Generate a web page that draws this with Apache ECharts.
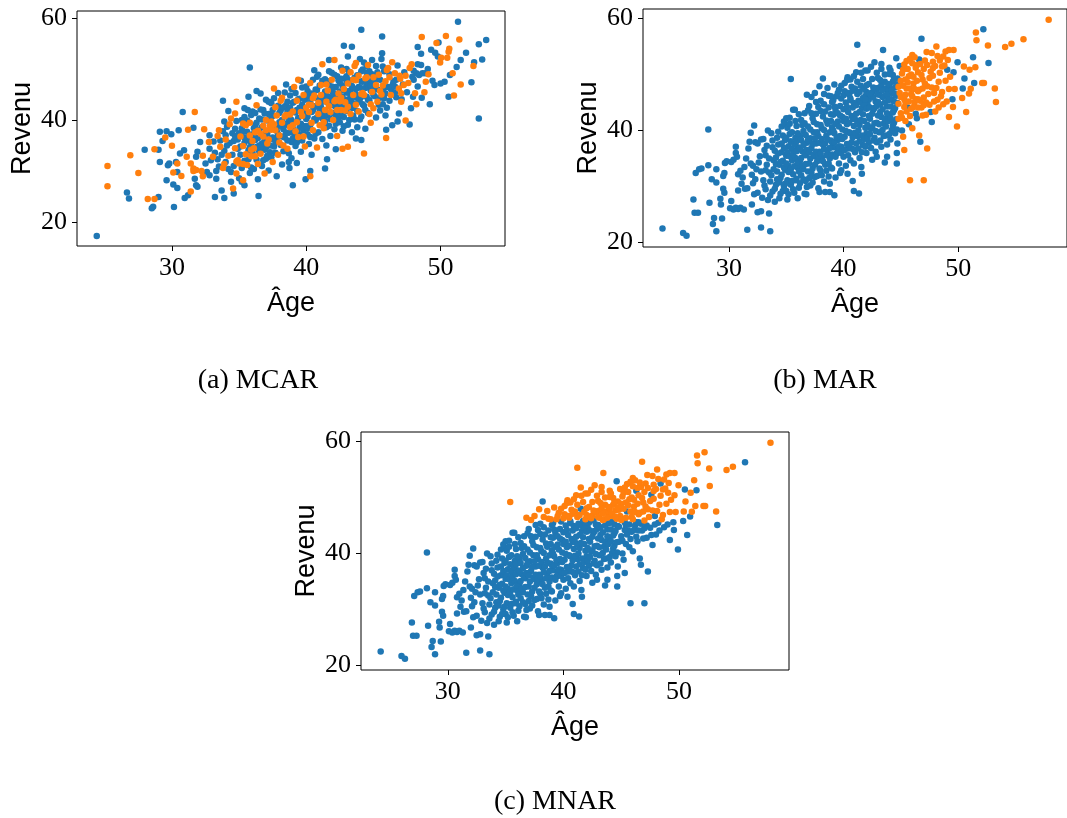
<!DOCTYPE html>
<html>
<head>
<meta charset="utf-8">
<script src="https://cdn.jsdelivr.net/npm/echarts@6.0.0/dist/echarts.min.js"></script>
<style>
  html, body { margin: 0; padding: 0; background: #fff; }
  #chart { width: 1067px; height: 818px; }
</style>
</head>
<body>
<div id="chart"></div>
<script>
// MCAR sample: [age, revenue, missing]
const mcarPoints = [
  [24.4,17.25,0],[25.2,31.0,1],[25.2,27.0,1],[26.65,25.8,0],[26.8,24.6,0],[26.9,33.1,1],[27.5,29.6,1],[27.97,34.2,0],
  [28.2,24.5,1],[28.7,24.5,1],[28.6,23.0,0],[28.5,22.7,0],[28.7,34.3,1],[29.0,24.9,0],[29.0,34.2,0],[29.1,31.8,0],
  [29.1,37.7,0],[29.6,37.8,0],[29.95,37.2,0],[30.5,38.0,0],[29.3,35.9,0],[29.5,36.6,1],[29.6,28.2,0],[29.7,31.15,0],
  [29.8,31.5,0],[30.0,34.95,1],[30.1,29.7,1],[30.1,27.35,0],[30.4,26.7,0],[30.15,22.95,0],[30.3,31.8,0],[30.4,29.8,0],
  [30.4,31.5,1],[30.6,33.45,0],[30.9,34.1,0],[30.7,29.05,1],[30.8,41.6,0],[30.95,24.7,0],[31.2,25.25,0],[31.1,32.8,1],
  [31.2,38.1,1],[31.4,26.0,1],[31.4,31.5,1],[31.6,30.5,1],[31.7,41.6,1],[31.6,38.5,0],[31.7,28.5,0],[31.8,27.2,0],
  [31.9,26.9,0],[31.8,32.8,0],[31.9,33.8,0],[31.6,30.0,1],[31.8,30.2,1],[32.2,30.0,1],[32.3,29.0,1],[32.1,35.7,0],
  [32.3,33.0,1],[32.75,35.7,1],[32.4,38.2,1],[32.8,37.05,0],[32.8,34.4,0],[32.6,29.8,0],[32.8,29.2,0],[33.05,32.8,1],
  [33.2,24.9,0],[33.9,24.7,0],[33.3,30.0,0],[33.3,28.5,0],[33.6,34.75,1],[33.7,26.2,0],[33.8,43.8,0],[33.9,39.7,0],
  [34.0,37.05,0],[34.0,36.2,1],[34.55,26.6,1],[34.6,25.6,0],[34.2,41.8,0],[34.4,40.3,1],[34.7,41.3,1],[34.8,43.6,1],
  [34.8,29.5,1],[34.9,32.1,1],[35.0,28.6,0],[35.2,27.9,0],[35.4,27.2,0],[35.3,28.2,1],[35.3,39.35,1],[35.5,39.0,1],
  [35.4,42.3,0],[35.65,42.0,0],[35.8,50.3,0],
  [33.4,32.3,0],[33.6,36.0,0],[33.8,30.6,1],[33.9,34.0,0],[34.0,31.8,0],[34.1,38.7,0],[34.2,33.0,1],[34.3,35.5,0],
  [34.4,29.8,0],[34.5,37.4,0],[34.6,31.0,0],[34.7,34.5,1],[34.8,39.8,0],[34.9,36.2,0],[35.0,31.5,1],[34.4,27.9,0],
  [33.5,38.0,1],[32.9,32.1,0],[32.5,31.5,0],[33.1,35.8,0],
  [35.1,33.2,0],[35.1,36.8,1],[35.2,30.6,0],[35.2,38.4,0],[35.3,34.9,1],[35.4,32.0,0],[35.4,40.6,0],[35.5,36.0,0],
  [35.6,31.2,1],[35.6,37.7,0],[35.7,34.1,0],[35.7,44.6,0],[35.8,29.6,0],[35.8,39.5,1],[35.9,35.5,0],[35.9,32.9,1],
  [36.0,41.7,0],[36.0,37.2,0],
  [36.1,30.4,0],[36.1,34.5,1],[36.2,39.0,0],[36.2,36.1,0],[36.3,32.2,0],[36.3,42.9,1],[36.4,37.9,1],[36.4,28.4,0],
  [36.5,35.0,0],[36.5,40.3,0],[36.6,33.4,1],[36.6,45.2,0],[36.7,31.0,0],[36.7,38.6,0],[36.8,36.8,1],[36.8,42.0,0],
  [36.9,29.5,1],[36.9,34.2,0],[37.0,40.0,1],[37.0,32.4,0],[37.0,44.0,0],
  [37.1,37.3,0],[37.1,35.4,1],[37.2,41.2,0],[37.2,30.1,0],[37.3,38.9,1],[37.3,33.7,0],[37.4,43.3,0],[37.4,36.3,0],
  [37.5,31.8,1],[37.5,40.8,0],[37.6,34.8,0],[37.7,38.0,1],[37.7,42.5,1],[37.8,36.4,0],[37.8,29.0,0],[37.9,45.3,0],
  [37.9,33.2,1],[38.0,39.6,0],[38.0,37.0,1],
  [38.1,35.1,0],[38.1,41.9,0],[38.2,31.3,0],[38.2,44.4,1],[38.3,38.2,0],[38.3,33.9,0],[38.4,40.7,1],[38.4,36.6,0],
  [38.5,42.9,0],[38.5,47.0,0],[38.6,34.4,1],[38.6,39.4,0],[38.7,37.5,0],[38.8,44.8,0],[38.8,41.1,1],[38.9,35.7,0],
  [38.9,32.5,0],[39.0,39.0,1],[39.0,43.4,0],
  [39.1,37.3,0],[39.1,46.5,1],[39.2,34.9,0],[39.2,41.5,0],[39.3,39.6,1],[39.3,31.6,0],[39.4,44.1,0],[39.4,36.7,1],
  [39.5,42.4,0],[39.5,38.5,0],[39.6,33.8,0],[39.6,47.7,0],[39.7,40.8,1],[39.7,36.0,0],[39.8,44.9,1],[39.8,38.0,0],
  [39.9,42.0,0],[39.9,34.8,1],[40.0,40.2,0],
  [40.1,37.2,0],[40.1,45.7,0],[40.2,43.0,1],[40.2,35.3,0],[40.3,39.1,0],[40.3,47.3,1],[40.4,41.6,0],[40.4,33.2,0],
  [40.5,44.3,1],[40.5,38.0,1],[40.6,36.4,0],[40.6,42.7,0],[40.7,46.0,0],[40.7,39.9,0],[40.8,34.6,1],[40.8,48.5,0],
  [40.9,41.2,1],[40.9,37.6,0],[41.0,44.0,0],[41.0,39.0,1],
  [41.1,42.5,0],[41.1,46.9,1],[41.2,36.3,0],[41.2,40.3,0],[41.3,44.9,0],[41.3,38.4,1],[41.4,48.0,0],[41.4,42.0,1],
  [41.5,35.0,0],[41.5,40.9,0],[41.6,45.8,1],[41.6,43.4,0],[41.7,38.9,0],[41.7,47.6,0],[41.8,41.6,1],[41.8,36.9,0],
  [41.9,44.4,0],[41.9,49.3,0],[42.0,40.0,1],[42.0,42.9,0],
  [42.1,46.4,0],[42.1,38.2,0],[42.2,44.0,1],[42.2,41.0,0],[42.3,48.6,0],[42.3,36.9,1],[42.4,43.1,0],[42.4,45.2,1],
  [42.5,39.6,0],[42.5,47.3,0],[42.6,42.0,1],[42.6,50.3,0],[42.7,44.6,0],[42.7,37.9,0],[42.8,46.1,1],[42.8,40.6,0],
  [42.9,48.2,0],[42.9,43.5,1],[43.0,41.8,0],[43.0,45.4,0],
  [43.1,39.1,0],[43.1,47.2,1],[43.2,43.9,0],[43.2,49.5,0],[43.3,41.2,1],[43.3,45.8,0],[43.4,37.6,0],[43.4,44.3,0],
  [43.5,47.9,1],[43.5,42.4,0],[43.6,40.1,0],[43.6,50.6,1],[43.7,45.0,0],[43.7,43.0,1],[43.8,48.8,0],[43.8,38.6,0],
  [43.9,46.5,0],[43.9,41.7,1],[44.0,44.2,0],[44.0,52.0,0],
  [44.1,47.6,0],[44.1,40.7,0],[44.2,45.3,1],[44.2,49.9,0],[44.3,42.8,0],[44.4,48.2,1],[44.4,38.3,0],[44.5,44.6,0],
  [44.5,46.7,0],[44.6,41.4,0],[44.6,50.8,1],[44.7,43.9,0],[44.7,47.3,0],[44.8,39.5,1],[44.8,45.8,0],[44.9,49.0,0],
  [45.0,42.3,1],[45.0,44.9,0],
  [45.1,47.9,0],[45.2,40.5,0],[45.2,50.6,0],[45.3,43.6,1],[45.3,46.0,0],[45.4,48.9,1],[45.5,41.9,0],[45.5,44.4,0],
  [45.6,52.0,0],[45.7,46.8,1],[45.7,43.1,0],[45.8,49.6,0],[45.9,40.9,0],[45.9,45.2,0],
  [46.0,49.85,1],[46.1,50.2,1],[46.2,43.8,0],[46.3,46.1,0],[46.4,51.35,1],[46.4,39.0,0],[46.45,47.0,0],[46.6,49.2,1],
  [46.7,47.9,0],[46.7,44.5,0],[46.8,39.7,0],[46.9,41.3,0],[46.95,48.7,1],
  [36.45,25.1,0],[36.3,45.7,0],[37.6,46.2,1],[39.0,27.2,0],[39.95,28.4,0],[40.3,30.0,0],[40.3,29.0,1],[38.75,30.6,0],
  [38.7,31.8,0],[40.6,49.8,0],[41.2,50.95,1],[41.7,51.8,0],[42.1,51.8,1],[41.55,32.3,0],[41.4,30.5,0],[42.2,34.3,0],
  [42.8,54.6,0],[43.4,54.4,0],[43.1,52.45,0],[43.0,50.0,0],[44.1,57.7,0],[44.3,33.45,1],[43.7,36.4,0],[44.1,36.1,0],
  [45.65,56.4,0],[45.65,53.1,0],[45.95,38.1,0],[45.95,36.5,1],[43.1,34.75,1],[42.7,34.4,1],
  [51.3,59.3,0],[48.6,56.3,1],[50.4,56.5,1],[51.4,55.8,1],[52.85,54.9,0],[53.4,55.7,0],[49.85,55.2,0],[49.7,55.1,1],
  [48.3,54.35,0],[48.55,53.0,0],[49.3,53.8,0],[49.6,53.2,0],[49.8,52.45,0],[50.65,54.0,1],[50.6,53.4,1],[50.05,52.25,1],
  [50.5,52.25,1],[49.97,51.3,1],[51.5,51.8,0],[51.2,50.4,0],[51.9,53.2,0],[52.5,51.35,0],[53.1,51.9,0],[52.45,50.6,1],
  [50.9,49.2,1],[50.7,48.85,0],[51.5,47.0,1],[52.3,47.4,0],[52.85,40.3,0],[51.0,44.8,1],[50.6,44.6,0],[50.3,47.5,0],
  [50.0,47.2,0],[49.55,46.9,0],[49.4,47.7,0],[49.2,43.1,0],[49.05,50.0,0],[48.85,49.2,0],[48.9,47.5,1],[48.8,45.45,1],
  [48.1,45.25,1],[48.2,43.1,1],[48.4,48.85,0],[48.65,49.2,0],[48.2,49.2,0],[47.9,48.5,0],[47.85,50.95,1],[47.7,50.2,1],
  [47.4,48.7,1],[48.55,50.8,0],[48.3,50.95,0],[47.5,45.45,0],[47.95,44.6,0],[47.4,39.9,1],[47.7,39.15,0],[47.07,45.25,1],
  [47.07,43.6,1],[47.26,46.9,1],
  // denser core
  [33.2,33.6,0],[33.4,36.9,1],[33.5,30.9,0],[33.7,33.2,0],[33.8,37.8,0],[33.9,31.4,1],[34.1,35.0,0],[34.2,30.4,0],
  [34.3,39.2,1],[34.5,33.2,0],[34.6,35.9,0],[34.7,38.3,0],[34.8,31.9,1],[34.9,34.4,0],[35.0,37.4,0],
  [35.1,34.8,0],[35.2,40.0,0],[35.3,31.4,1],[35.3,37.7,0],[35.4,35.5,0],[35.5,33.3,1],[35.6,39.9,0],[35.6,36.4,0],
  [35.7,32.3,0],[35.8,37.0,1],[35.8,34.6,0],[35.9,41.0,0],[35.9,30.7,0],[36.0,35.9,1],[36.0,33.6,0],[36.1,38.4,0],
  [36.1,36.9,0],[36.2,32.9,1],[36.2,41.4,0],[36.3,34.7,0],[36.3,39.5,0],[36.4,36.5,0],[36.4,31.4,1],[36.5,38.1,0],
  [36.5,33.9,0],[36.6,42.1,0],[36.6,37.3,1],[36.7,35.4,0],[36.7,40.1,0],[36.8,32.1,0],[36.8,38.9,1],[36.9,36.0,0],
  [36.9,41.3,0],[37.0,34.6,0],[37.0,38.0,1],
  [37.1,39.9,0],[37.1,33.0,0],[37.2,36.2,1],[37.2,43.6,0],[37.3,35.0,0],[37.3,40.4,0],[37.4,38.1,1],[37.4,32.7,0],
  [37.5,42.0,0],[37.5,36.6,0],[37.6,39.2,1],[37.6,44.3,0],[37.7,35.7,0],[37.7,33.6,0],[37.8,40.9,1],[37.8,38.6,0],
  [37.9,37.2,0],[37.9,42.8,0],[38.0,35.6,1],[38.0,41.4,0],[38.1,38.9,0],[38.1,43.8,1],[38.2,36.8,0],[38.2,40.0,0],
  [38.3,42.5,0],[38.3,35.0,1],[38.4,39.0,0],[38.4,45.4,0],[38.5,37.5,0],[38.5,41.0,1],[38.6,43.6,0],[38.6,36.0,0],
  [38.7,40.3,0],[38.7,33.5,0],[38.8,38.6,1],[38.8,42.4,0],[38.9,40.0,0],[38.9,46.1,0],[39.0,36.4,0],[39.0,41.7,1],
  [39.1,39.5,0],[39.1,43.6,0],[39.2,37.8,1],[39.2,45.3,0],[39.3,42.0,0],[39.3,35.6,0],[39.4,40.4,0],[39.4,47.9,1],
  [39.5,37.2,0],[39.5,44.2,0],[39.6,41.6,1],[39.6,39.3,0],[39.7,43.0,0],[39.7,46.4,0],[39.8,40.9,0],[39.8,36.8,1],
  [39.9,44.0,0],[39.9,38.8,0],[40.0,42.4,1],[40.0,46.6,0],[40.1,40.7,0],[40.1,38.4,0],[40.2,44.6,0],[40.2,41.6,1],
  [40.3,36.7,0],[40.3,43.4,0],[40.4,45.2,0],[40.4,39.5,1],[40.5,41.9,0],[40.5,47.9,0],[40.6,40.2,0],[40.6,44.8,1],
  [40.7,42.6,0],[40.7,37.3,0],[40.8,45.9,0],[40.8,40.5,0],[40.9,43.4,1],[40.9,48.9,0],[41.0,41.7,0],[41.0,46.8,0],
  [41.1,40.8,0],[41.1,44.9,1],[41.2,43.6,0],[41.2,47.7,0],[41.3,41.9,0],[41.3,39.6,1],[41.4,45.6,0],[41.4,43.9,0],
  [41.5,38.6,0],[41.5,47.0,1],[41.6,41.2,0],[41.6,44.7,0],[41.7,49.6,0],[41.7,42.7,1],[41.8,46.0,0],[41.8,40.2,0],
  [41.9,43.4,0],[41.9,47.9,1],[42.0,45.3,0],[42.0,41.4,0],[42.1,48.9,0],[42.1,43.7,1],[42.2,39.3,0],[42.2,46.5,0],
  [42.3,44.6,0],[42.3,42.0,1],[42.4,47.8,0],[42.4,40.3,0],[42.5,45.6,0],[42.5,43.7,1],[42.6,48.1,0],[42.6,41.1,0],
  [42.7,46.7,0],[42.7,49.7,1],[42.8,43.7,0],[42.8,38.8,0],[42.9,45.8,0],[42.9,41.9,1],[43.0,47.4,0],[43.0,44.0,0],
  [43.1,45.4,0],[43.1,42.6,1],[43.2,47.8,0],[43.2,40.0,0],[43.3,44.7,0],[43.3,49.4,1],[43.4,42.4,0],[43.4,46.7,0],
  [43.5,44.9,1],[43.5,40.8,0],[43.6,48.3,0],[43.6,43.2,0],[43.7,46.1,0],[43.7,51.2,1],[43.8,44.4,0],[43.8,41.8,0],
  [43.9,48.7,1],[43.9,43.6,0],[44.0,46.4,0],[44.0,40.1,0],[44.1,49.6,0],[44.1,45.1,1],[44.2,43.1,0],[44.2,47.5,0],
  [44.3,51.3,0],[44.3,44.9,1],[44.4,46.3,0],[44.4,42.0,0],[44.5,48.4,1],[44.5,50.6,0],[44.6,44.0,0],[44.6,47.4,0],
  [44.7,41.2,1],[44.7,49.6,0],[44.8,46.8,0],[44.8,43.1,1],[44.9,47.8,0],[44.9,51.8,0],[45.0,45.9,0],[45.0,48.4,1],
  [45.1,44.7,0],[45.2,46.9,1],[45.3,49.4,0],[45.4,43.0,0],[45.5,47.9,0],[45.6,45.0,1],[45.7,50.5,0],[45.8,44.3,0],
  [45.9,47.6,1],[46.0,42.4,0],[46.1,46.5,0],[46.2,49.0,0],[46.3,44.9,1],[46.5,47.6,0],[46.6,45.4,0],[46.8,50.7,0],
  [46.9,46.2,1],[47.1,44.1,0],[47.3,49.4,0],[47.6,47.3,1],[47.8,42.3,0],[48.0,47.9,0],[48.3,46.6,0],[48.6,44.4,0],
  [38.2,39.5,1],[38.6,41.8,0],[39.0,38.3,0],[39.3,43.8,1],[39.7,41.2,0],[40.0,44.9,0],[40.4,42.9,1],[40.8,44.3,0],
  [41.1,41.3,0],[41.5,43.6,1],[41.9,46.6,0],[42.2,42.6,0],[42.6,44.4,1],[43.0,48.6,0],[43.3,43.4,0],[43.7,47.8,1],
  [44.1,44.6,0],[44.5,49.3,0],[44.9,45.5,1],[45.3,48.1,0],[45.8,46.3,0],[46.2,48.4,1],[46.6,46.6,0],[47.2,47.0,0],
  [36.2,37.6,1],[36.6,34.8,0],[37.0,37.5,0],[37.4,39.7,1],[37.8,37.9,0],[35.4,36.6,0],[35.9,34.2,1],[34.7,36.9,0],
  [40.0,38.8,0],[41.4,39.8,0],[42.7,42.9,0],[44.2,46.1,0],[45.5,45.7,1],[47.0,48.1,1],[48.0,49.7,0],[49.1,49.0,1]
];

// MAR / MNAR sample: [age, revenue, missing under MAR, missing under MNAR]
const sharedPoints = [
  [24.2,22.4,0,0],[26.0,21.6,0,0],[26.3,21.1,0,0],[26.9,27.6,0,0],[27.0,25.2,0,0],[27.3,25.2,0,0],[27.1,32.3,0,0],
  [27.4,33.0,0,0],[27.6,33.1,0,0],[28.2,40.1,0,0],[28.2,33.7,0,0],[28.3,27.0,0,0],[28.6,23.2,0,0],[28.9,21.9,0,0],
  [28.7,24.3,0,0],[28.5,31.2,0,0],[28.9,30.6,0,0],[28.9,33.0,0,0],[29.25,27.7,0,0],[29.3,26.7,0,0],[29.4,24.2,0,0],
  [29.5,29.5,0,0],[29.6,28.8,0,0],[29.5,31.8,0,0],[29.6,32.3,0,0],[29.65,34.1,0,0],[29.8,34.4,0,0],
  [30.2,34.3,0,0],[30.2,27.3,0,0],[30.1,26.0,0,0],[30.4,25.8,0,0],[30.6,26.1,0,0],[30.8,25.9,0,0],[31.0,26.1,0,0],
  [31.3,25.8,0,0],[30.4,34.7,0,0],[30.6,37.0,0,0],[30.6,35.9,0,0],[30.7,35.2,0,0],[30.8,29.2,0,0],[30.8,32.1,0,0],
  [31.0,32.7,0,0],[31.1,30.4,0,0],[31.2,31.5,0,0],[31.35,33.4,0,0],[31.4,29.5,0,0],[31.6,29.6,0,0],[31.6,22.2,0,0],
  [31.7,36.7,0,0],[31.8,37.9,0,0],[31.9,39.5,0,0],[32.0,26.7,0,0],[32.0,32.0,0,0],[32.1,33.6,0,0],[32.1,30.5,0,0],
  [32.2,40.8,0,0],[32.2,28.5,0,0],[32.5,28.8,0,0],[32.3,37.8,0,0],[32.5,37.6,0,0],[32.5,25.3,0,0],[32.8,25.5,0,0],
  [32.6,34.2,0,0],[32.7,35.3,0,0],[32.8,32.6,0,0],[32.8,22.6,0,0],[32.8,38.3,0,0],[33.0,38.4,0,0],[33.0,31.0,0,0],
  [33.1,30.1,0,0],[33.1,36.4,0,0],[33.2,35.5,0,0],[33.4,27.5,0,0],[33.5,25.1,0,0],[33.6,21.9,0,0],[33.4,39.9,0,0],
  [33.7,39.4,0,0],
  [31.5,34.9,0,0],[31.9,34.0,0,0],[32.3,31.2,0,0],[32.4,33.0,0,0],[33.3,33.8,0,0],[33.5,32.4,0,0],[33.6,30.8,0,0],
  [33.8,29.0,0,0],[33.9,34.6,0,0],[33.8,36.9,0,0],[33.2,29.4,0,0],[32.9,27.9,0,0],
  [34.0,27.2,0,0],[34.1,30.2,0,0],[34.2,32.6,0,0],[34.1,35.1,0,0],[34.3,37.4,0,0],[34.3,39.7,0,0],[34.4,33.8,0,0],
  [34.5,31.4,0,0],[34.5,28.6,0,0],[34.6,40.6,0,0],[34.6,36.0,0,0],[34.7,34.5,0,0],[34.8,41.5,0,0],[34.8,29.9,0,0],
  [34.9,32.9,0,0],[34.9,38.2,0,0],[35.0,42.1,0,0],[35.0,35.4,0,0],[35.1,31.0,0,0],[35.1,27.6,0,0],[35.2,33.6,0,0],
  [35.2,37.1,0,0],[35.3,42.2,0,0],[35.3,39.3,0,0],[35.4,49.1,0,1],[35.4,30.2,0,0],[35.5,34.6,0,0],[35.5,36.6,0,0],
  [35.6,43.6,0,0],[35.6,32.1,0,0],[35.7,28.8,0,0],[35.75,43.6,0,0],[35.8,38.6,0,0],[35.8,35.0,0,0],[35.9,40.7,0,0],
  [35.9,31.3,0,0],[36.0,27.8,0,0],[36.0,33.3,0,0],[36.0,36.9,0,0],
  [36.1,29.7,0,0],[36.2,38.9,0,0],[36.2,34.5,0,0],[36.3,41.8,0,0],[36.3,31.9,0,0],[36.4,36.2,0,0],[36.5,33.0,0,0],
  [36.5,39.8,0,0],[36.6,28.6,0,0],[36.6,43.0,0,0],[36.7,30.9,0,0],[36.75,28.5,0,0],[36.7,35.5,0,0],[36.8,37.7,0,0],
  [36.9,40.6,0,0],[36.9,32.6,0,0],[37.0,44.3,0,0],[37.0,34.0,0,0],[37.1,38.5,0,0],[37.1,30.1,0,0],[37.2,36.8,0,0],
  [37.3,42.1,0,0],[37.3,33.1,0,0],[37.4,39.6,0,0],[37.5,35.3,0,0],[37.5,31.6,0,0],[37.6,45.0,0,0],[37.6,37.6,0,0],
  [37.7,41.0,0,0],[37.7,34.4,0,0],[37.8,29.6,0,0],[37.9,28.9,0,0],[37.8,38.9,0,0],[37.9,36.1,0,0],[38.0,43.4,0,0],
  [38.0,32.7,0,0],
  [38.1,40.3,0,0],[38.1,35.0,0,0],[38.2,49.2,0,0],[38.2,37.4,0,0],[38.3,30.8,0,0],[38.3,44.6,0,0],[38.4,28.9,0,0],
  [38.4,33.8,0,0],[38.5,41.7,0,0],[38.5,39.0,0,0],[38.6,36.3,0,0],[38.7,46.1,0,1],[38.7,31.7,0,0],[38.8,28.9,0,0],
  [38.8,30.4,0,0],[38.8,34.9,0,0],[38.9,42.8,0,0],[38.9,38.1,0,0],[39.0,40.5,0,0],[39.0,33.1,0,0],[39.1,45.3,0,0],
  [39.1,36.9,0,0],[39.2,28.35,0,0],[39.2,39.4,0,0],[39.3,43.6,0,0],[39.3,31.5,0,0],[39.4,35.8,0,0],[39.5,41.5,0,0],
  [39.5,38.2,0,0],[39.6,47.2,0,1],[39.6,34.0,0,0],[39.7,44.3,0,0],[39.7,32.3,0,0],[39.8,32.8,0,0],[39.8,37.0,0,0],
  [39.9,40.1,0,0],[39.9,42.3,0,0],
  [40.0,35.2,0,0],[40.1,48.4,0,1],[40.1,38.8,0,0],[40.2,44.9,0,0],[40.2,33.6,0,0],[40.35,49.4,0,1],[40.35,32.2,0,0],
  [40.3,41.0,0,0],[40.4,36.7,0,0],[40.5,46.3,0,1],[40.5,39.6,0,0],[40.6,49.0,0,1],[40.6,34.6,0,0],[40.7,42.5,0,0],
  [40.7,37.8,0,0],[40.8,30.9,0,0],[40.8,44.0,0,0],[40.9,29.1,0,0],[40.9,34.0,0,0],[40.9,40.7,0,0],[41.0,47.4,0,1],
  [41.0,36.0,0,0],[41.1,50.3,0,1],[41.1,42.9,0,0],[41.2,55.2,0,1],[41.2,38.9,0,0],[41.3,45.2,0,0],[41.35,28.65,0,0],
  [41.4,35.0,0,0],[41.4,40.9,0,0],[41.5,47.9,0,0],[41.55,50.2,0,1],[41.55,33.4,0,0],[41.6,32.2,0,0],[41.6,43.9,0,0],
  [41.7,37.3,0,0],[41.8,41.6,0,0],[41.9,50.6,0,1],[41.9,46.0,0,1],[42.0,39.4,0,0],[42.0,35.9,0,0],
  [42.1,44.5,0,0],[42.2,48.2,0,1],[42.2,37.7,0,0],[42.3,42.0,0,0],[42.4,40.2,0,0],[42.5,46.7,0,1],[42.5,34.7,0,0],
  [42.6,43.6,0,0],[42.7,52.1,0,1],[42.7,38.6,0,0],[42.8,36.1,0,0],[42.8,45.1,0,0],[42.9,35.2,0,0],[42.9,41.3,0,0],
  [43.0,49.3,0,1],[43.0,47.5,0,1],[43.1,39.6,0,0],[43.2,43.2,0,0],[43.3,50.9,0,1],[43.3,37.0,0,0],[43.4,45.9,0,1],
  [43.45,54.3,0,1],[43.5,41.1,0,0],[43.6,34.2,0,0],[43.6,48.6,0,1],[43.7,39.0,0,0],[43.8,35.2,0,0],[43.8,44.2,0,0],
  [43.9,46.9,0,1],[44.0,51.1,0,1],[44.0,42.4,0,0],
  [44.1,38.3,0,0],[44.2,45.5,0,0],[44.3,49.8,0,1],[44.3,40.8,0,0],[44.4,43.5,0,0],[44.5,47.6,0,1],[44.6,52.8,0,0],
  [44.65,34.0,0,0],[44.65,35.9,0,0],[44.65,40.1,0,0],[44.7,44.8,0,0],[44.8,42.0,1,0],[44.9,51.4,0,1],[44.9,46.6,1,1],
  [45.0,48.8,1,1],[45.0,43.0,1,0],[45.1,39.9,0,0],[45.2,50.75,1,1],[45.2,38.8,1,0],[45.3,36.4,1,0],[45.3,45.5,1,0],
  [45.4,41.6,1,0],[45.5,47.4,1,0],[45.5,52.3,1,1],[45.6,44.0,0,0],[45.7,49.6,1,1],[45.8,31.0,1,0],[45.8,42.5,1,0],
  [45.9,46.4,1,1],[46.0,53.4,1,1],[46.0,40.3,1,0],[46.1,48.3,1,1],[46.2,44.9,1,0],[46.3,51.1,1,0],[46.4,51.6,1,1],
  [46.4,42.1,0,0],[46.5,46.9,1,1],[46.6,39.0,1,0],[46.7,51.8,1,1],[46.7,37.9,0,0],[46.8,56.3,0,1],[46.8,44.0,1,0],
  [46.9,49.0,1,1],[47.0,31.0,1,0],[47.0,45.8,1,1],[47.1,52.4,1,1],[47.2,42.7,1,0],[47.25,53.9,1,1],[47.3,36.7,1,0],
  [47.3,47.8,1,1],[47.5,44.5,1,0],[47.6,50.4,1,0],[47.7,53.75,1,1],[47.7,41.4,0,0],[47.8,52.2,1,1],[47.8,51.05,1,1],
  [47.9,46.6,1,0],[48.0,43.3,1,0],[48.1,54.9,1,1],[48.2,45.4,1,0],[48.3,48.6,1,1],[48.4,52.4,1,0],[48.5,46.0,1,1],
  [48.6,51.35,1,1],[48.7,44.6,1,0],[48.8,51.5,1,1],[48.9,54.0,1,1],[49.05,50.75,0,1],[49.1,52.5,1,1],[49.2,54.3,1,1],
  [49.2,47.3,1,1],[49.2,42.3,1,0],[49.5,45.5,0,0],[49.55,44.1,1,0],[49.6,54.3,1,1],[49.6,50.3,0,1],[49.7,47.3,1,1],
  [49.9,40.6,1,0],[49.95,52.1,0,1],[50.35,45.7,1,0],[50.4,47.4,0,1],[50.5,51.35,1,0],[50.55,49.2,0,1],[50.7,43.2,1,0],
  [50.95,46.5,1,0],[51.0,50.75,1,1],[51.1,47.35,1,1],[51.3,53.0,0,1],[51.4,48.4,0,1],[51.5,51.2,1,0],[51.55,57.4,1,1],
  [51.6,56.0,1,1],
  [52.1,48.4,1,1],[52.2,58.0,0,1],[52.25,48.4,1,1],[52.6,55.1,1,1],[52.65,51.95,0,1],[53.2,47.4,1,1],[53.3,45.0,1,0],
  [54.1,54.8,1,1],[54.65,55.4,1,1],[55.7,56.2,1,0],[57.9,59.7,1,1],
  // denser core
  [33.2,32.8,0,0],[33.3,37.2,0,0],[33.5,34.9,0,0],[33.6,28.3,0,0],[33.7,31.9,0,0],[33.8,38.1,0,0],[33.9,33.0,0,0],
  [34.0,36.3,0,0],[34.0,29.5,0,0],[34.1,33.9,0,0],[34.2,38.6,0,0],[34.2,31.2,0,0],[34.3,35.8,0,0],[34.4,27.8,0,0],
  [34.4,30.6,0,0],[34.5,34.3,0,0],[34.6,37.6,0,0],[34.6,32.0,0,0],[34.7,29.1,0,0],[34.7,39.0,0,0],[34.8,33.3,0,0],
  [34.8,36.8,0,0],[34.9,30.4,0,0],[34.9,41.0,0,0],[35.0,34.0,0,0],[35.0,38.6,0,0],[35.0,29.1,0,0],
  [35.1,36.0,0,0],[35.1,40.4,0,0],[35.2,28.5,0,0],[35.2,32.5,0,0],[35.3,35.3,0,0],[35.3,41.1,0,0],[35.4,38.0,0,0],
  [35.4,33.0,0,0],[35.5,30.9,0,0],[35.5,39.6,0,0],[35.6,35.7,0,0],[35.6,29.4,0,0],[35.7,37.5,0,0],[35.7,33.5,0,0],
  [35.8,41.6,0,0],[35.8,31.0,0,0],[35.9,36.2,0,0],[35.9,38.0,0,0],[36.0,34.2,0,0],[36.0,39.4,0,0],[36.1,32.6,0,0],
  [36.1,42.8,0,0],[36.2,36.8,0,0],[36.2,30.5,0,0],[36.3,35.0,0,0],[36.3,38.2,0,0],[36.4,40.9,0,0],[36.4,33.6,0,0],
  [36.5,31.2,0,0],[36.5,37.3,0,0],[36.6,35.8,0,0],[36.6,41.2,0,0],[36.7,33.9,0,0],[36.7,39.1,0,0],[36.8,29.8,0,0],
  [36.8,36.4,0,0],[36.9,43.5,0,0],[36.9,38.2,0,0],[37.0,31.4,0,0],[37.0,36.0,0,0],
  [37.1,40.1,0,0],[37.1,34.9,0,0],[37.2,32.3,0,0],[37.2,43.0,0,0],[37.3,37.5,0,0],[37.3,30.6,0,0],[37.4,35.6,0,0],
  [37.4,41.4,0,0],[37.5,38.5,0,0],[37.5,33.8,0,0],[37.6,42.9,0,0],[37.6,36.1,0,0],[37.7,31.8,0,0],[37.7,39.6,0,0],
  [37.8,35.4,0,0],[37.8,44.1,0,0],[37.9,37.7,0,0],[37.9,33.1,0,0],[38.0,40.9,0,0],[38.0,35.8,0,0],[38.1,38.4,0,0],
  [38.1,31.9,0,0],[38.2,42.4,0,0],[38.2,34.4,0,0],[38.3,36.6,0,0],[38.3,40.0,0,0],[38.4,43.3,0,0],[38.4,37.6,0,0],
  [38.5,32.7,0,0],[38.5,35.5,0,0],[38.6,41.1,0,0],[38.6,38.3,0,0],[38.7,44.0,0,0],[38.7,34.0,0,0],[38.8,36.8,0,0],
  [38.8,39.6,0,0],[38.9,41.6,0,0],[38.9,33.3,0,0],[39.0,37.8,0,0],[39.0,35.6,0,0],
  [39.1,42.7,0,0],[39.1,39.9,0,0],[39.2,37.8,0,0],[39.2,44.2,0,0],[39.3,35.2,0,0],[39.3,41.1,0,0],[39.4,38.7,0,0],
  [39.4,46.0,0,1],[39.5,36.3,0,0],[39.5,43.0,0,0],[39.6,40.6,0,0],[39.6,37.1,0,0],[39.7,38.9,0,0],[39.7,42.6,0,0],
  [39.8,35.9,0,0],[39.8,45.6,0,0],[39.9,38.4,0,0],[39.9,36.6,0,0],[40.0,43.7,0,0],[40.0,41.6,0,0],[40.1,36.4,0,0],
  [40.1,46.9,0,1],[40.2,39.8,0,0],[40.2,42.0,0,0],[40.3,37.5,0,0],[40.3,44.1,0,0],[40.4,35.5,0,0],[40.4,43.2,0,0],
  [40.5,41.3,0,0],[40.5,37.3,0,0],[40.6,45.3,0,0],[40.6,39.4,0,0],[40.7,36.7,0,0],[40.7,47.7,0,1],[40.8,42.0,0,0],
  [40.8,38.7,0,0],[40.9,44.8,0,0],[40.9,36.5,0,0],[41.0,41.9,0,0],[41.0,39.5,0,0],
  [41.1,37.6,0,0],[41.1,44.4,0,0],[41.2,41.5,0,0],[41.2,46.4,0,1],[41.3,39.9,0,0],[41.3,36.7,0,0],[41.4,43.2,0,0],
  [41.4,38.0,0,0],[41.5,45.0,0,0],[41.5,41.8,0,0],[41.6,39.0,0,0],[41.6,36.0,0,0],[41.7,42.8,0,0],[41.7,45.7,0,0],
  [41.8,38.4,0,0],[41.8,44.5,0,0],[41.9,40.4,0,0],[41.9,37.0,0,0],[42.0,43.8,0,0],[42.0,46.8,0,1],[42.1,40.9,0,0],
  [42.1,38.6,0,0],[42.2,45.4,0,0],[42.2,42.5,0,0],[42.3,39.3,0,0],[42.3,44.0,0,0],[42.4,36.8,0,0],[42.4,46.2,0,1],
  [42.5,42.9,0,0],[42.5,40.5,0,0],[42.6,38.1,0,0],[42.6,45.8,0,0],[42.7,43.9,0,0],[42.7,41.2,0,0],[42.8,47.3,0,1],
  [42.8,39.8,0,0],[42.9,44.3,0,0],[42.9,37.8,0,0],[43.0,42.6,0,0],[43.0,45.0,0,0],
  [43.1,41.0,0,0],[43.1,46.3,0,1],[43.2,38.1,0,0],[43.2,44.6,0,0],[43.3,42.3,0,0],[43.3,48.0,0,1],[43.4,40.0,0,0],
  [43.4,43.7,0,0],[43.5,46.0,0,1],[43.5,38.9,0,0],[43.6,44.9,0,0],[43.6,42.0,0,0],[43.7,47.4,0,1],[43.7,40.6,0,0],
  [43.8,43.0,0,0],[43.8,37.4,0,0],[43.9,45.3,0,0],[43.9,41.6,0,0],[44.0,47.9,0,1],[44.0,39.3,0,0],[44.1,44.2,0,0],
  [44.1,42.1,0,0],[44.2,46.6,0,1],[44.2,40.0,0,0],[44.3,43.1,0,0],[44.3,48.6,0,1],[44.4,41.3,0,0],[44.4,45.1,0,0],
  [44.5,39.4,0,0],[44.5,43.9,0,0],[44.6,46.1,0,1],[44.6,41.9,0,0],[44.7,49.2,0,1],[44.7,37.6,0,0],[44.8,44.7,1,0],
  [44.8,47.7,1,1],
  [45.0,45.9,1,1],[45.1,50.1,1,1],[45.1,42.2,1,0],[45.2,47.9,1,1],[45.3,44.1,1,0],[45.3,51.7,1,1],[45.4,49.0,1,1],
  [45.4,46.3,1,1],[45.5,43.3,1,0],[45.6,48.5,1,1],[45.6,50.9,1,1],[45.7,45.1,1,0],[45.7,41.0,0,0],[45.8,47.4,1,1],
  [45.8,52.7,1,1],[45.9,49.9,1,1],[45.9,43.8,1,0],[46.0,46.0,1,1],[46.0,51.9,1,1],[46.1,44.1,1,0],[46.1,49.5,1,1],
  [46.2,47.3,1,1],[46.2,53.0,1,1],[46.3,45.5,1,0],[46.3,42.9,0,0],[46.4,48.8,1,1],[46.5,50.3,1,1],[46.5,44.0,1,0],
  [46.6,47.2,1,1],[46.6,52.6,0,1],[46.7,45.2,1,0],[46.8,49.8,1,1],[46.9,47.4,1,1],[46.9,42.6,1,0],[47.0,50.9,1,1],
  [47.1,48.3,1,1],[47.2,44.9,1,0],[47.3,51.6,1,1],[47.4,46.4,1,1],[47.5,49.3,1,1],[47.6,43.2,0,0],[47.7,47.6,1,1],
  [47.8,49.7,1,1],[47.9,45.1,1,0],[48.0,51.4,1,1],[48.1,47.5,1,1],[48.2,53.2,1,1],[48.3,44.0,1,0],[48.4,50.2,1,1],
  [48.6,46.8,1,1],[48.7,53.1,1,1],[48.9,48.8,1,1],[49.0,45.1,1,0],[49.3,49.5,1,1],
  // upper edge of the observed mass (missing only under MNAR)
  [38.3,46.4,0,1],[38.6,47.5,0,1],[38.9,46.0,0,1],[39.2,48.1,0,1],[39.5,46.6,0,1],[39.8,47.9,0,1],[40.0,46.2,0,1],
  [40.3,48.9,0,1],[40.4,46.6,0,1],[40.8,47.0,0,1],[40.9,49.6,0,1],[41.2,48.6,0,1],[41.4,46.8,0,1],[41.7,49.1,0,1],
  [41.8,47.3,0,1],[42.0,48.0,0,1],[42.1,50.6,0,1],[42.3,46.5,0,1],[42.5,49.1,0,1],[42.6,47.6,0,1],[42.9,50.2,0,1],
  [43.0,46.4,0,1],[43.2,48.9,0,1],[43.4,47.1,0,1],[43.6,49.9,0,1],[43.8,46.3,0,1],[43.9,48.2,0,1],[44.1,50.6,0,1],
  [44.2,47.0,0,1],[44.4,49.0,0,1],[44.5,46.4,0,1],[44.7,48.1,0,1],[37.5,46.6,0,1],[37.9,47.8,0,1],[36.8,46.3,0,1],
  [37.2,45.9,0,1],[44.0,50.0,0,1],[43.3,51.8,0,1],[42.4,51.3,0,1],[41.5,51.7,0,1],
  [38.0,45.2,0,0],[39.0,45.0,0,0],[40.6,45.6,0,0],[41.9,45.4,0,0],[43.0,44.8,0,0],[44.0,45.5,0,0],[45.4,45.0,1,0],
  [46.5,45.5,1,0],[47.0,44.4,1,0]
];

const panelCaptions = ["(a) MCAR", "(b) MAR", "(c) MNAR"];
const xTickValues = [30, 40, 50];
const yTickValues = [20, 40, 60];

const BLUE = "#1f77b4";
const ORANGE = "#ff7f0e";

function split(points, flagIndex) {
  const observed = [], missing = [];
  points.forEach(p => {
    (p[flagIndex] ? missing : observed).push([p[0], p[1]]);
  });
  return { observed, missing };
}

const panels = [
  { data: split(mcarPoints, 2), grid: { left: 77, top: 11, width: 428, height: 235 }, x: [22.93, 54.8], y: [15.3, 61.4] },
  { data: split(sharedPoints, 2), grid: { left: 643, top: 9, width: 428, height: 238 }, x: [22.5, 59.5], y: [19.1, 61.6] },
  { data: split(sharedPoints, 3), grid: { left: 361, top: 432, width: 428, height: 238 }, x: [22.5, 59.5], y: [19.1, 61.6] }
];

const tickFont = { fontFamily: "Liberation Serif", fontSize: 26, color: "#000" };
const nameFont = { fontFamily: "Liberation Sans", fontSize: 27, color: "#000" };
const captionFont = "28px 'Liberation Serif'";
const captionPos = [[258, 381], [825, 381], [555, 802]];

const chart = echarts.init(document.getElementById("chart"));

const option = {
  animation: false,
  grid: panels.map(p => ({ ...p.grid, show: true, borderColor: "#000", borderWidth: 1, backgroundColor: "#fff" })),
  xAxis: panels.map((p, i) => ({
    type: "value",
    gridIndex: i,
    min: p.x[0],
    max: p.x[1],
    name: "Âge",
    nameLocation: "middle",
    nameGap: 44,
    nameTextStyle: nameFont,
    axisLine: { show: false },
    axisTick: { show: true, inside: false, length: 5, customValues: xTickValues, lineStyle: { color: "#000" } },
    axisLabel: { customValues: xTickValues, margin: 9, ...tickFont },
    splitLine: { show: false }
  })),
  yAxis: panels.map((p, i) => ({
    type: "value",
    gridIndex: i,
    min: p.y[0],
    max: p.y[1],
    name: "Revenu",
    nameLocation: "middle",
    nameGap: 41,
    nameTextStyle: nameFont,
    axisLine: { show: false },
    axisTick: { show: true, inside: false, length: 5, customValues: yTickValues, lineStyle: { color: "#000" } },
    axisLabel: { customValues: yTickValues, margin: 10, ...tickFont },
    splitLine: { show: false }
  })),
  series: panels.flatMap((p, i) => [
    {
      type: "scatter", xAxisIndex: i, yAxisIndex: i,
      data: p.data.observed, symbolSize: 6.5,
      itemStyle: { color: BLUE, opacity: 1 }, silent: true
    },
    {
      type: "scatter", xAxisIndex: i, yAxisIndex: i,
      data: p.data.missing, symbolSize: 6.5,
      itemStyle: { color: ORANGE, opacity: 1 }, silent: true
    }
  ]),
  graphic: panelCaptions.map((text, i) => ({
    type: "text",
    x: captionPos[i][0],
    y: captionPos[i][1],
    style: { text, font: captionFont, fill: "#000", align: "center", verticalAlign: "middle" }
  }))
};

chart.setOption(option);
</script>
</body>
</html>
